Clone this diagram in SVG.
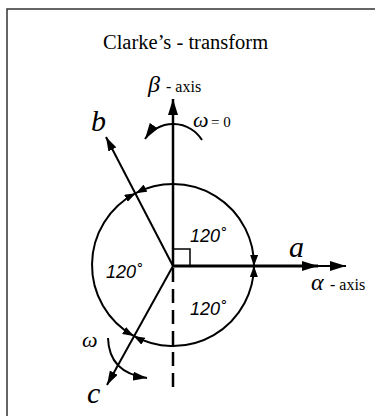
<svg xmlns="http://www.w3.org/2000/svg" width="375" height="416" viewBox="0 0 375 416">
<style>
.ln{fill:none;stroke:#000;stroke-width:2}
.th{fill:none;stroke:#000;stroke-width:3}
.sr{font-family:"Liberation Serif",serif;fill:#000}
.it{font-family:"Liberation Serif",serif;font-style:italic;fill:#000}
.sa{font-family:"Liberation Sans",Arial,sans-serif;font-style:italic;font-size:18px;fill:#000}
</style>
<defs>
<marker id="ah" viewBox="0 0 16 10" refX="16" refY="5" markerWidth="16" markerHeight="10" markerUnits="userSpaceOnUse" orient="auto"><path d="M0,0 L16,5 L0,10 z"/></marker>
<marker id="am" viewBox="0 0 14 9" refX="14" refY="4.5" markerWidth="14" markerHeight="9" markerUnits="userSpaceOnUse" orient="auto"><path d="M0,0 L14,4.5 L0,9 z"/></marker>
<marker id="as" viewBox="0 0 11 8" refX="11" refY="4" markerWidth="11" markerHeight="8" markerUnits="userSpaceOnUse" orient="auto-start-reverse"><path d="M0,0 L11,4 L0,8 z"/></marker>
</defs>
<path d="M7,416 V9 H375" fill="none" stroke="#333" stroke-width="1.5"/>
<g id="title"><text class="sr" x="103" y="49" font-size="20.5">Clarke’s - transform</text></g>
<g id="connectors">
<line id="beta-axis" class="ln" x1="173" y1="266" x2="173" y2="99" style="stroke-width:2.5" marker-end="url(#ah)"/>
<line id="neg-beta" class="ln" x1="173" y1="268" x2="173" y2="391" stroke-dasharray="14 7" style="stroke-width:2.5"/>
<line id="a-phase" class="th" x1="173" y1="266" x2="318" y2="266" marker-end="url(#ah)"/>
<line id="alpha-axis" class="ln" x1="316" y1="266" x2="346" y2="266" marker-end="url(#ah)"/>
<line id="b-phase" class="ln" x1="173" y1="266" x2="106" y2="137" marker-end="url(#am)"/>
<line id="c-phase" class="ln" x1="173" y1="266" x2="107" y2="385" marker-end="url(#am)"/>
<path id="arc-ba" class="ln" d="M135.7,193.2 A81,81 0 0 1 254,266" marker-start="url(#as)" marker-end="url(#as)"/>
<path id="arc-ac" class="ln" d="M254,266 A81,81 0 0 1 133.7,335.9" marker-start="url(#as)" marker-end="url(#as)"/>
<path id="arc-cb" class="ln" d="M133.7,335.9 A81,81 0 0 1 135.7,193.2" marker-start="url(#as)" marker-end="url(#as)"/>
<path id="omega0-arc" class="ln" d="M202,140 A34,34 0 0 0 145,139" marker-end="url(#ah)"/>
<path id="omega-arc" class="ln" d="M108,338 Q109,373 147,378" marker-end="url(#am)"/>
<path id="right-angle" fill="none" stroke="#000" stroke-width="1.5" d="M173,249 H190 V266"/>
</g>
<g id="beta-label"><text class="it" x="148" y="92" font-size="24">β</text><text class="sr" x="166" y="92" font-size="16">- axis</text></g>
<g id="omega0-label"><text class="it" x="193" y="127" font-size="22">ω</text><text class="sr" x="211" y="127" font-size="15">= 0</text></g>
<g id="b-label"><text class="it" x="91" y="131" font-size="30">b</text></g>
<g id="a-label"><text class="it" x="289" y="257" font-size="30">a</text></g>
<g id="c-label"><text class="it" x="87" y="403" font-size="30">c</text></g>
<g id="alpha-label"><text class="it" x="311" y="290" font-size="24">α</text><text class="sr" x="330" y="290" font-size="16">- axis</text></g>
<g id="omega-label"><text class="it" x="82" y="347" font-size="22">ω</text></g>
<g id="angle-ur"><text class="sa" x="190" y="242">120˚</text></g>
<g id="angle-l"><text class="sa" x="106" y="278">120˚</text></g>
<g id="angle-lr"><text class="sa" x="190" y="315">120˚</text></g>
</svg>
